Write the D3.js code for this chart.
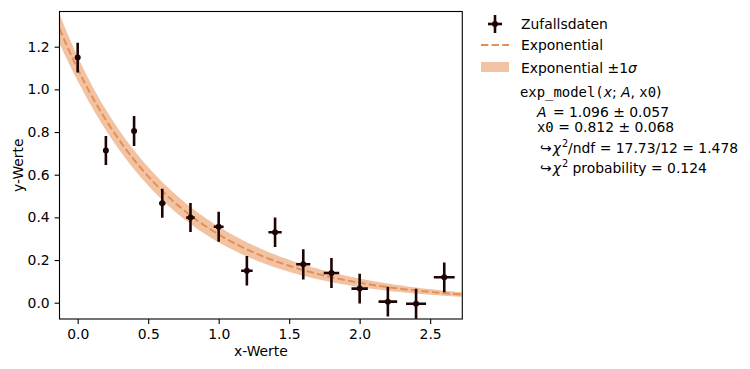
<!DOCTYPE html>
<html><head><meta charset="utf-8">
<script src="https://cdn.jsdelivr.net/npm/d3@7"></script>
<style>body{margin:0;background:#fff}svg{display:block}text{font-family:"DejaVu Sans",sans-serif}</style>
</head><body>
<svg id="c" width="750" height="369"></svg>
<script>
const xVals = [0.0,0.2,0.4,0.6,0.8,1.0,1.2,1.4,1.6,1.8,2.0,2.2,2.4,2.6];
const yVals = [1.149,0.713,0.805,0.466,0.399,0.356,0.150,0.330,0.180,0.139,0.066,0.005,-0.005,0.119];
const yErr  = [0.070,0.068,0.070,0.068,0.068,0.070,0.069,0.069,0.071,0.070,0.070,0.070,0.070,0.070];
const xErr  = [0.0,0.008,0.014,0.022,0.030,0.035,0.041,0.047,0.050,0.055,0.058,0.066,0.071,0.074];
const fitParams = [1.096, 0.812];   // A, x0
const fitErrors = [0.057, 0.068];
const xTicks = [0.0,0.5,1.0,1.5,2.0,2.5];
const yTicks = [0.0,0.2,0.4,0.6,0.8,1.0,1.2];

const svg = d3.select("#c");
const L=59.5, R=462.3, T=11.5, B=319;
const x = d3.scaleLinear().domain([-0.129,2.728]).range([L,R]);
const y = d3.scaleLinear().domain([-0.0764,1.365]).range([B,T]);

const cData="#1e0505", cLine="#e58f57", cBand="#f2c3a3";

svg.append("defs").append("clipPath").attr("id","clip")
  .append("rect").attr("x",L).attr("y",T).attr("width",R-L).attr("height",B-T);

const [A,x0]=fitParams,[sA,sx0]=fitErrors;
const f = t=>A*Math.exp(-t/x0);
const sf = t=>Math.exp(-t/x0)*Math.sqrt(sA*sA+Math.pow(A*t*sx0/(x0*x0),2));
const grid = d3.range(0,201).map(i=>-0.129+i*(2.728+0.129)/200);

const g = svg.append("g").attr("clip-path","url(#clip)");
g.append("path").datum(grid)
  .attr("d",d3.area().x(t=>x(t)).y0(t=>y(f(t)-sf(t))).y1(t=>y(f(t)+sf(t))))
  .attr("fill",cBand).attr("stroke","none");
g.append("path").datum(grid)
  .attr("d",d3.line().x(t=>x(t)).y(t=>y(f(t))))
  .attr("fill","none").attr("stroke",cLine).attr("stroke-width",2).attr("stroke-dasharray","7.4,3.2");

const pts = xVals.map((v,i)=>({x:v,y:yVals[i],ex:xErr[i],ey:yErr[i]}));
const pg = g.append("g");
pg.selectAll("line.v").data(pts).join("line")
  .attr("x1",d=>x(d.x)).attr("x2",d=>x(d.x)).attr("y1",d=>y(d.y-d.ey)).attr("y2",d=>y(d.y+d.ey))
  .attr("stroke",cData).attr("stroke-width",2.6);
pg.selectAll("line.h").data(pts).join("line")
  .attr("x1",d=>x(d.x-d.ex)).attr("x2",d=>x(d.x+d.ex)).attr("y1",d=>y(d.y)).attr("y2",d=>y(d.y))
  .attr("stroke",cData).attr("stroke-width",2.6);
pg.selectAll("circle").data(pts).join("circle")
  .attr("cx",d=>x(d.x)).attr("cy",d=>y(d.y)).attr("r",3).attr("fill",cData);

// axes
const xa = svg.append("g").attr("transform",`translate(0,${B})`)
  .call(d3.axisBottom(x).tickValues(xTicks).tickFormat(d3.format(".1f")).tickSizeOuter(0).tickSize(4.9).tickPadding(4.9));
const ya = svg.append("g").attr("transform",`translate(${L},0)`)
  .call(d3.axisLeft(y).tickValues(yTicks).tickFormat(d3.format(".1f")).tickSizeOuter(0).tickSize(4.9).tickPadding(4.9));
[xa,ya].forEach(a=>{a.select(".domain").remove();a.selectAll("text").attr("font-size",13.9).attr("fill","#000").attr("font-family","DejaVu Sans");a.selectAll("line").attr("stroke","#000").attr("stroke-width",1.1);});
svg.append("rect").attr("x",L).attr("y",T).attr("width",R-L).attr("height",B-T)
  .attr("fill","none").attr("stroke","#000").attr("stroke-width",1.1);

svg.append("text").attr("x",(L+R)/2).attr("y",356).attr("text-anchor","middle").attr("font-size",13.9).text("x-Werte");
svg.append("text").attr("transform",`translate(23,${(T+B)/2}) rotate(-90)`).attr("text-anchor","middle").attr("font-size",13.9).text("y-Werte");

// legend
const hx0=481, hx1=509, hc=(hx0+hx1)/2, tx=521;
svg.append("line").attr("x1",hc).attr("x2",hc).attr("y1",15).attr("y2",33).attr("stroke",cData).attr("stroke-width",2.6);
svg.append("line").attr("x1",hc-7).attr("x2",hc+7).attr("y1",24).attr("y2",24).attr("stroke",cData).attr("stroke-width",2.6);
svg.append("circle").attr("cx",hc).attr("cy",24).attr("r",3).attr("fill",cData);
svg.append("line").attr("x1",hx0).attr("x2",hx1).attr("y1",45).attr("y2",45).attr("stroke",cLine).attr("stroke-width",2).attr("stroke-dasharray","7.4,3.2");
svg.append("rect").attr("x",hx0).attr("y",62).attr("width",hx1-hx0).attr("height",10).attr("fill",cBand);
const leg = [["Zufallsdaten",29],["Exponential",49.5],["Exponential ±1",73]];
leg.forEach(([t,yy],i)=>{
  const tt=svg.append("text").attr("x",tx).attr("y",yy).attr("font-size",13.9).text(t);
  if(i===2) tt.append("tspan").attr("font-style","italic").text("σ");
});

// fit info block
const mono='"DejaVu Sans Mono",monospace';
function line(xx,yy,parts){
  const t=svg.append("text").attr("x",xx).attr("y",yy).attr("font-size",13.9);
  parts.forEach(p=>{
    const s=t.append("tspan").text(p[0]);
    if(p[1]==="m") s.attr("font-family",mono);
    if(p[1]==="i") s.attr("font-style","italic");
    if(p[1]==="sup") s.attr("font-size",9.7).attr("dy",-6).attr("dx",1);
    if(p[1]==="down") s.attr("dy",6);
    if(p[2]) s.attr("dx",p[2]);
  });
}
line(520,97,[["exp_model(","m"],["x","i"],["; ",""],["A","i"],[", ",""],["x0","m"],[")",""]]);
line(537,116.5,[["A","i"],[" = 1.096 ± 0.057","",2]]);
line(537,131.5,[["x0","m"],[" = 0.812 ± 0.068",""]]);
line(540,152.5,[["↪",""],["χ","i",1],["2","sup"],["/ndf = 17.73/12 = 1.478","down"]]);
line(540,173,[["↪",""],["χ","i",1],["2","sup"],[" probability = 0.124","down"]]);
</script>
</body></html>
